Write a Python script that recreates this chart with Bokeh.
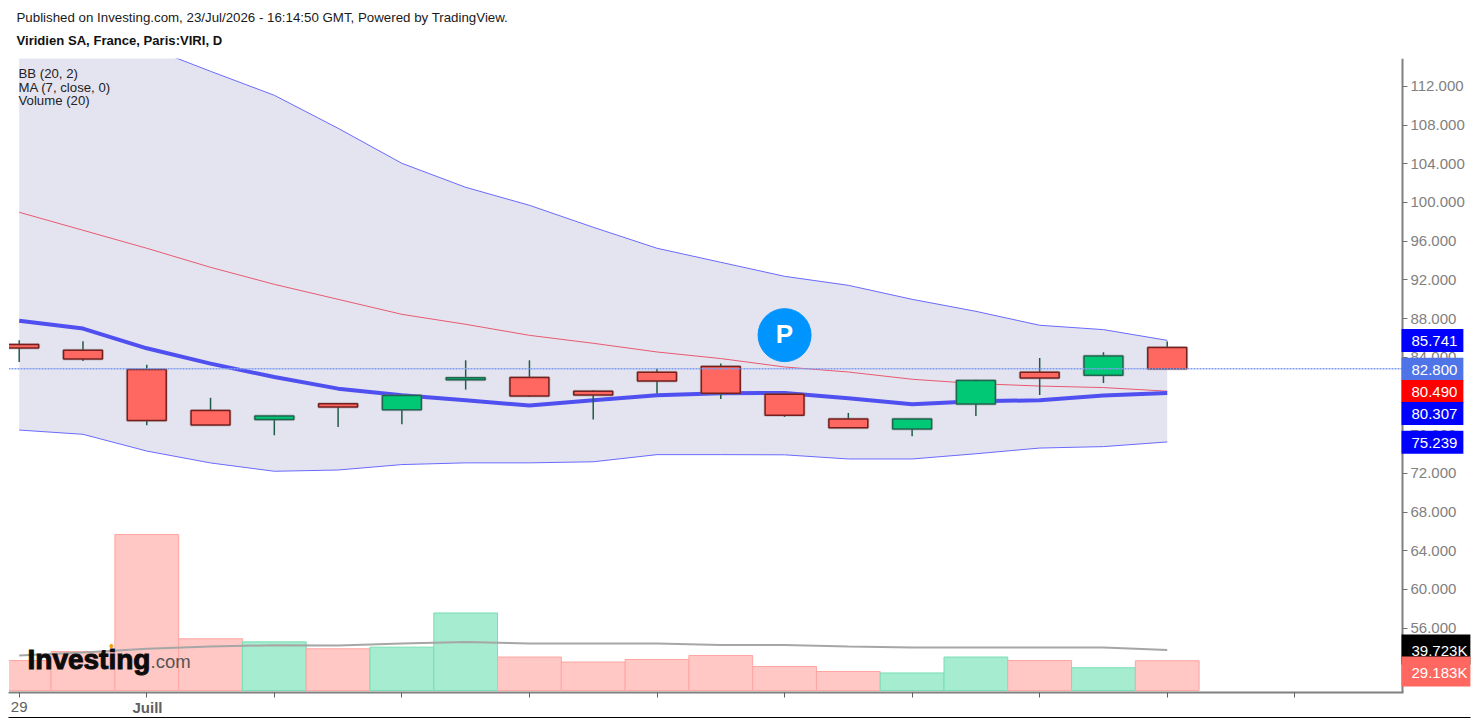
from bokeh.plotting import figure
from bokeh.models import Range1d, FixedTicker, Label, BoxAnnotation, NumeralTickFormatter
from bokeh.embed import file_html
from bokeh.resources import INLINE

FONT = "Liberation Sans"

idx = list(range(19))
opens = [85.30, 84.71, 82.72, 78.48, 77.55, 79.20, 78.58, 81.66, 81.89, 80.48, 82.44, 83.03, 80.17, 77.61, 76.58, 79.16, 82.44, 82.13, 84.99]
closes = [84.95, 83.82, 77.45, 76.99, 77.92, 78.85, 80.03, 81.87, 79.99, 80.09, 81.54, 80.27, 78.00, 76.72, 77.61, 81.58, 81.85, 84.12, 82.80]
highs = [85.75, 85.64, 83.23, 79.82, 77.99, 79.20, 80.03, 83.68, 83.68, 80.58, 82.82, 83.34, 80.24, 78.24, 77.66, 81.68, 83.92, 84.51, 85.61]
lows = [83.50, 83.61, 76.96, 76.93, 75.93, 76.79, 77.06, 80.65, 79.89, 77.55, 80.24, 79.68, 77.82, 76.72, 75.82, 77.92, 80.09, 81.33, 82.80]
bb_upper = [118.6, 117.5, 116.1, 113.55, 111.07, 107.66, 104.04, 101.56, 99.7, 97.43, 95.26, 93.81, 92.36, 91.43, 89.98, 88.74, 87.3, 86.85, 85.741]
bb_mid = [98.98, 97.12, 95.26, 93.29, 91.53, 89.98, 88.43, 87.40, 86.26, 85.44, 84.54, 83.86, 82.99, 82.47, 81.72, 81.27, 81.02, 80.86, 80.49]
bb_lower = [76.47, 76.03, 74.30, 73.07, 72.21, 72.34, 72.90, 73.08, 73.08, 73.19, 73.93, 73.93, 73.91, 73.48, 73.48, 74.02, 74.61, 74.76, 75.239]
ma7 = [87.76, 86.96, 84.92, 83.34, 81.95, 80.75, 80.06, 79.55, 79.0, 79.55, 80.06, 80.27, 80.30, 79.75, 79.13, 79.44, 79.55, 80.03, 80.307]
volume = [29.4, 38.2, 152.9, 50.7, 47.7, 40.9, 42.5, 76.0, 32.8, 27.9, 30.4, 34.3, 23.5, 18.6, 17.2, 32.8, 29.4, 22.3, 29.183]
vol_ma = [34.3, 37.3, 40.9, 43.1, 44.4, 44.1, 46.1, 47.5, 46.1, 46.1, 46.1, 44.6, 44.6, 43.1, 42.2, 42.2, 42.2, 42.2, 39.723]
price_ticks = [56, 60, 64, 68, 72, 76, 80, 84, 88, 92, 96, 100, 104, 108, 112]
date_ticks = [0, 2, 4, 6, 8, 10, 12, 14, 16, 18, 20]
date_labels = {0: "29"}
marker_x = [12]
marker_y = [86.28]
last_price = 82.8

RED = "#ff6860"
GREEN = "#00c875"
W, H = 1477, 723
FL, FT, FR, FB = 8, 58, 1402, 691   # chart pane edges on the page


def xv(px):
    return (px - 18.7) / 63.78


def yv(py):
    return 112 - (py - 85.8) / 9.675


p = figure(width=W, height=H, output_backend="svg", toolbar_location=None,
           x_range=Range1d(xv(0), xv(W)), y_range=Range1d(yv(H), yv(0)),
           y_axis_location="right", min_border=0)
p.extra_y_ranges = {"vol": Range1d((690 - H) / 1.02, 690 / 1.02)}
p.grid.visible = False
p.outline_line_color = None
p.background_fill_color = "white"
p.border_fill_color = "white"

ya = p.yaxis[0]
ya.fixed_location = xv(FR)
ya.bounds = (yv(FB + 1), yv(FT))
ya.ticker = FixedTicker(ticks=price_ticks)
ya.formatter = NumeralTickFormatter(format="0.000")
ya.major_label_text_font = FONT
ya.major_label_text_font_size = "15px"
ya.major_label_text_color = "#808080"
ya.major_tick_in = 0
ya.major_tick_out = 5
ya.major_tick_line_color = "#707070"
ya.minor_tick_line_color = None
ya.axis_line_color = "#808080"
ya.axis_line_width = 2
ya.major_label_standoff = 3

xa = p.xaxis[0]
xa.fixed_location = yv(FB + 1)
xa.bounds = (xv(FL), xv(FR + 1))
xa.ticker = FixedTicker(ticks=date_ticks)
xa.major_label_overrides = {t: date_labels.get(t, "") for t in date_ticks}
xa.major_label_text_font = FONT
xa.major_label_text_font_size = "15px"
xa.major_label_text_color = "#606060"
xa.major_tick_in = 0
xa.major_tick_out = 5
xa.major_tick_line_color = "#606060"
xa.minor_tick_line_color = None
xa.axis_line_color = "#808080"
xa.axis_line_width = 2
xa.major_label_standoff = 4

# Bollinger band
p.varea(idx, bb_lower, bb_upper, fill_color="#e4e4f0")
p.line(idx, bb_upper, line_color="#6a6aff", line_width=1)
p.line(idx, bb_lower, line_color="#6a6aff", line_width=1)
p.line(idx, bb_mid, line_color="#e85a70", line_width=1)
p.line(idx, ma7, line_color="#5050f0", line_width=4)

# volume
is_up = [c >= o for o, c in zip(opens, closes)]
vf = ["#a5ecd0" if u else "#ffc8c5" for u in is_up]
vl = ["#78deb5" if u else "#ffa5a2" for u in is_up]
p.vbar(idx, top=volume, bottom=0, width=1, fill_color=vf, line_color=vl, line_width=1, y_range_name="vol")
p.line(idx, vol_ma, line_color="#a6a6a6", line_width=2, y_range_name="vol")

# candles
tops = [max(o, c) for o, c in zip(opens, closes)]
bots = [min(o, c) for o, c in zip(opens, closes)]
cf = [GREEN if u else RED for u in is_up]
cl = ["#1f6650" if u else "#751f1f" for u in is_up]
p.segment(idx, highs, idx, lows, line_color="#1f5c45", line_width=1.5)
p.vbar(idx, top=tops, bottom=bots, width=0.61, fill_color=None, line_color="#777777", line_alpha=0.35, line_width=3)
p.vbar(idx, top=tops, bottom=bots, width=0.61, fill_color=cf, line_color=cl, line_width=1.5)

p.line([xv(FL), xv(FR)], [last_price, last_price], line_color="#7f9df0", line_width=1.5, line_dash="2 1")

p.scatter(marker_x, marker_y, size=53, marker="circle", fill_color="#0094ff", line_color="#0094ff")

# white masks: the chart pane stops at its top and left edges
p.add_layout(BoxAnnotation(bottom=yv(FT), fill_color="white", fill_alpha=1, line_color=None))
p.quad(left=[xv(-5)], right=[xv(FL)], top=[yv(FT)], bottom=[yv(FB)], fill_color="white", line_color="white", level="annotation")

# black rule under the whole picture
p.line([xv(FL), xv(1470)], [yv(717), yv(717)], line_color="#000000", line_width=1, level="overlay")


def text(t, x, y, size, color="#000000", style="normal", align="left", baseline="middle", **kw):
    p.add_layout(Label(x=x, y=H - y, x_units="screen", y_units="screen", text=t, text_font=FONT,
                       text_font_size=size, text_color=color, text_font_style=style, text_align=align,
                       text_baseline=baseline, level="overlay", **kw))


text("P", 784, 333, "26px", "#ffffff", "bold", align="center")
text("Published on Investing.com, 23/Jul/2026 - 16:14:50 GMT, Powered by TradingView.", 16, 17, "13.3px", "#1a1a1a")
text("Viridien SA, France, Paris:VIRI, D", 16, 40, "13.1px", "#111111", "bold")
text("BB (20, 2)", 18, 73, "13.2px", "#222222")
text("MA (7, close, 0)", 18, 87, "13.2px", "#222222")
text("Volume (20)", 18, 100, "13.2px", "#222222")
text("Investing", 27, 659, "28px", "#0c0c0c", "bold", text_outline_color="#0c0c0c")
text(".com", 150, 661, "18.5px", "#555555")
text("\u2022", 111, 645, "14px", "#f5a000", align="center")
text("Juill", 147, 707, "15px", "#606060", "bold", align="center")

tags = [("85.741", 340, "#0000ff"), ("82.800", 368.7, "#4f74e8"), ("80.490", 391, "#ff0000"),
        ("80.307", 413, "#0000ff"), ("75.239", 441.7, "#0000ff"), ("39.723K", 649, "#000000"),
        ("29.183K", 671, "#ff6860")]
for t, y, c in tags:
    text(t, 1401, y, "15px", "#ffffff", background_fill_color=c,
         padding=(10, 3 if t.endswith("K") else 6, 7, 6))

tag_y = [yv(y) for _, y, _ in tags]
p.segment([xv(1403)] * len(tags), tag_y, [xv(1407)] * len(tags), tag_y,
          line_color="#d8d8f0", line_width=1, level="overlay")

open("out.html", "w").write(file_html(p, INLINE))
